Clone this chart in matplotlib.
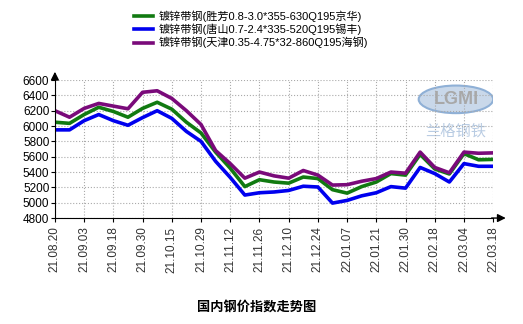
import matplotlib
matplotlib.use('Agg')
import matplotlib.pyplot as plt
from matplotlib.patches import Ellipse

plt.rcParams['font.family'] = ['Liberation Sans', 'Noto Sans CJK SC', 'DejaVu Sans']

# tick labels (dates), one per grid column
dates = ['21.08.20', '21.09.03', '21.09.18', '21.09.30', '21.10.15', '21.10.29',
         '21.11.12', '21.11.26', '21.12.10', '21.12.24', '22.01.07', '22.01.21',
         '22.01.30', '22.02.18', '22.03.04', '22.03.18']

# values read at half-column steps
pos = [i * 0.5 for i in range(31)]
shengfang = [6050, 6035, 6150, 6245, 6190, 6115, 6230, 6310, 6220, 6050, 5910,
             5660, 5450, 5210, 5300, 5270, 5255, 5335, 5315, 5170, 5125,
             5210, 5270, 5380, 5360, 5630, 5440, 5375, 5640, 5560, 5565]
tangshan = [5950, 5950, 6070, 6150, 6070, 6010, 6110, 6200, 6100, 5930, 5800,
            5540, 5330, 5100, 5130, 5140, 5160, 5215, 5205, 4995, 5030,
            5090, 5130, 5210, 5190, 5460, 5380, 5270, 5510, 5475, 5475]
tianjin = [6200, 6115, 6230, 6295, 6260, 6225, 6440, 6460, 6360, 6200, 6020,
           5680, 5510, 5320, 5400, 5350, 5320, 5420, 5360, 5230, 5235,
           5280, 5315, 5400, 5385, 5660, 5460, 5390, 5660, 5645, 5650]

labels = ['镀锌带钢(胜芳0.8-3.0*355-630Q195京华)',
          '镀锌带钢(唐山0.7-2.4*335-520Q195锡丰)',
          '镀锌带钢(天津0.35-4.75*32-860Q195海钢)']

fig = plt.figure(figsize=(5.23, 3.24), dpi=100)
ax = fig.add_axes([0.105, 0.327, 0.838, 0.426])

# watermark
ax.add_patch(Ellipse((0.915, 0.86), 0.17, 0.2, transform=ax.transAxes,
                     facecolor='#c9d8ea', edgecolor='#8fb0d6', lw=1.5, zorder=0))
ax.text(0.915, 0.86, 'LGMI', transform=ax.transAxes, ha='center', va='center',
        fontsize=13, fontweight='bold', color='#a8a8a8', zorder=0)
ax.text(0.915, 0.63, '兰格钢铁', transform=ax.transAxes, ha='center', va='center',
        fontsize=11, color='#b9cce3', style='italic', family=['Noto Sans CJK SC'],
        zorder=0)

l1, = ax.plot(pos, shengfang, color='#117a11', lw=2.6, solid_joinstyle='round')
l2, = ax.plot(pos, tangshan, color='#0000ee', lw=2.6, solid_joinstyle='round')
l3, = ax.plot(pos, tianjin, color='#7a0a7a', lw=2.6, solid_joinstyle='round')

ax.set_xlim(0, 15)
ax.set_ylim(4800, 6600)
ax.set_xticks(range(len(dates)))
ax.set_xticklabels(dates, rotation=90, fontsize=8.5, color='#333333')
ax.set_yticks(range(4800, 6601, 200))
ax.tick_params(axis='y', labelsize=8.5, length=3, pad=1)
ax.tick_params(axis='x', length=3, pad=3)
ax.grid(True, color='#aaaaaa', linestyle=':', lw=0.8)
ax.spines['top'].set_visible(False)
ax.spines['right'].set_visible(False)

ax.annotate('', xy=(0, 1.08), xytext=(0, 0.99), xycoords='axes fraction',
            arrowprops=dict(arrowstyle='-|>', color='black', lw=1, mutation_scale=12))
ax.annotate('', xy=(1.035, 0), xytext=(0.99, 0), xycoords='axes fraction',
            arrowprops=dict(arrowstyle='-|>', color='black', lw=1, mutation_scale=12))

fig.legend([l1, l2, l3], labels, loc='upper left', bbox_to_anchor=(0.245, 0.985),
           frameon=False, fontsize=8, handlelength=1.7, handletextpad=0.5,
           labelspacing=0.15, borderpad=0,
           prop={'family': ['Liberation Sans', 'Noto Sans CJK SC'], 'size': 8})

fig.text(0.49, 0.055, '国内钢价指数走势图', ha='center', va='center', fontsize=9.5,
         fontweight='bold', family=['Noto Sans CJK SC'])

fig.savefig('out.png', dpi=100)
